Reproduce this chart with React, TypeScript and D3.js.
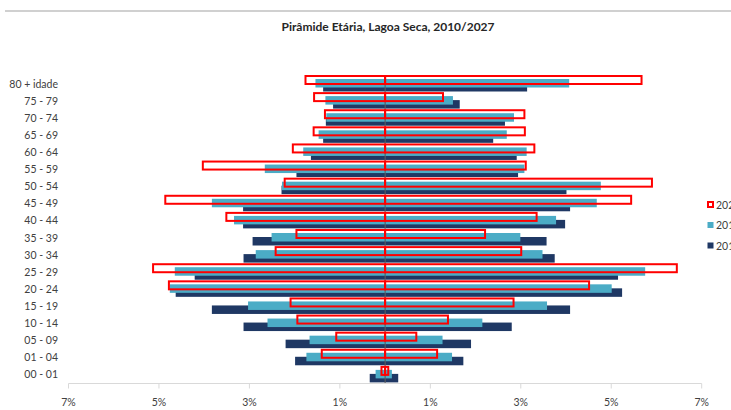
import { useEffect, useRef } from "react";
import * as d3 from "d3";

const ageGroups = [
  "80 + idade", "75 - 79", "70 - 74", "65 - 69", "60 - 64", "55 - 59",
  "50 - 54", "45 - 49", "40 - 44", "35 - 39", "30 - 34", "25 - 29",
  "20 - 24", "15 - 19", "10 - 14", "05 - 09", "01 - 04", "00 - 01",
];

// left side (%) per age group, top to bottom
const left2027 = [1.76, 1.57, 1.33, 1.58, 2.04, 4.03, 2.22, 4.86, 3.51, 1.96, 2.42, 5.13, 4.78, 2.09, 1.94, 1.08, 1.40, 0.08];
const left2017 = [1.54, 1.32, 1.30, 1.47, 1.81, 2.66, 2.28, 3.83, 3.34, 2.51, 2.86, 4.65, 4.76, 3.03, 2.60, 1.67, 1.74, 0.21];
const left2010 = [1.37, 1.15, 1.31, 1.37, 1.64, 1.96, 2.29, 3.14, 3.14, 2.93, 3.13, 4.21, 4.63, 3.83, 3.13, 2.20, 1.99, 0.34];

// right side (%)
const right2027 = [5.67, 1.28, 3.08, 3.09, 3.30, 3.11, 5.90, 5.44, 3.35, 2.21, 3.01, 6.45, 4.51, 2.84, 1.39, 0.69, 1.15, 0.07];
const right2017 = [4.07, 1.50, 2.85, 2.69, 3.13, 3.08, 4.77, 4.68, 3.78, 2.99, 3.48, 5.75, 5.01, 3.58, 2.15, 1.27, 1.48, 0.15];
const right2010 = [3.14, 1.65, 2.65, 2.39, 2.91, 2.94, 4.01, 4.09, 3.98, 3.57, 3.75, 5.15, 5.24, 4.09, 2.80, 1.90, 1.73, 0.29];

const ticks = [-7, -5, -3, -1, 1, 3, 5, 7];
const legendItems = ["2027", "2017", "2010"];

const RED = "#ff0000";
const TEAL = "#4bacc6";
const NAVY = "#1f3864";

export default function App() {
  const ref = useRef<SVGSVGElement>(null);

  useEffect(() => {
    if (!ref.current) return;
    const width = 731;
    const height = 410;
    const svg = d3.select(ref.current);
    svg.selectAll("*").remove();

    const font = "Lato, 'Open Sans', sans-serif";
    const x = d3.scaleLinear().domain([-7, 7]).range([68.5, 701.7]);
    const y = d3.scaleBand().domain(ageGroups).range([75, 383]).padding(0);
    const cx = x(0);

    // top border line
    svg.append("line")
      .attr("x1", 5).attr("x2", width).attr("y1", 11).attr("y2", 11)
      .attr("stroke", "#c0c0c0").attr("stroke-width", 1.5);

    svg.append("text")
      .attr("x", 388).attr("y", 31)
      .attr("text-anchor", "middle")
      .attr("font-family", font).attr("font-weight", "bold").attr("font-size", 12)
      .attr("fill", "#262626")
      .text("Pirâmide Etária, Lagoa Seca, 2010/2027");

    const g = svg.append("g");

    const drawSeries = (lv: number[], rv: number[], y0: number, h: number, color: string, outline: boolean) => {
      ageGroups.forEach((a, i) => {
        const by = (y(a) as number) + y0;
        [[-lv[i], 0], [0, rv[i]]].forEach(([v0, v1]) => {
          const r = g.append("rect")
            .attr("x", x(v0)).attr("y", by)
            .attr("width", x(v1) - x(v0)).attr("height", h);
          if (outline) r.attr("fill", "none").attr("stroke", color).attr("stroke-width", 2);
          else r.attr("fill", color);
        });
      });
    };

    drawSeries(left2010, right2010, 8, 8.5, NAVY, false);
    drawSeries(left2017, right2017, 4, 8.5, TEAL, false);

    // vertical axis line
    g.append("line")
      .attr("x1", cx).attr("x2", cx).attr("y1", 75).attr("y2", 383)
      .attr("stroke", "#595959").attr("stroke-width", 1);

    drawSeries(left2027, right2027, 1, 8, RED, true);

    // category labels
    svg.append("g").selectAll("text")
      .data(ageGroups).enter().append("text")
      .attr("x", 58).attr("y", (d) => (y(d) as number) + y.bandwidth() / 2 + 4)
      .attr("text-anchor", "end")
      .attr("font-family", font).attr("font-size", 10.5).attr("fill", "#404040")
      .text((d) => d);

    // bottom axis
    const axisY = 383.5;
    svg.append("line")
      .attr("x1", x(-7)).attr("x2", x(7)).attr("y1", axisY).attr("y2", axisY)
      .attr("stroke", "#d9d9d9").attr("stroke-width", 1);
    const tg = svg.append("g").selectAll("g").data(ticks).enter().append("g");
    tg.append("line")
      .attr("x1", (d) => x(d)).attr("x2", (d) => x(d))
      .attr("y1", axisY).attr("y2", axisY + 5)
      .attr("stroke", "#d9d9d9");
    tg.append("text")
      .attr("x", (d) => x(d)).attr("y", 406)
      .attr("text-anchor", "middle")
      .attr("font-family", font).attr("font-size", 10.5).attr("fill", "#404040")
      .text((d) => `${Math.abs(d)}%`);

    // legend
    const lg = svg.append("g");
    legendItems.forEach((name, i) => {
      const ly = 204.5 + i * 20.5;
      if (i === 0) {
        lg.append("rect").attr("x", 708).attr("y", ly - 2.5).attr("width", 5).attr("height", 5)
          .attr("fill", "none").attr("stroke", RED).attr("stroke-width", 2);
      } else {
        lg.append("rect").attr("x", 707.5).attr("y", ly - 3).attr("width", 6).attr("height", 6)
          .attr("fill", i === 1 ? TEAL : NAVY);
      }
      lg.append("text")
        .attr("x", 716).attr("y", ly + 4)
        .attr("font-family", font).attr("font-size", 10.5).attr("fill", "#404040")
        .text(name);
    });

    svg.attr("width", width).attr("height", height);
  }, []);

  return (
    <div style={{ position: "absolute", left: 0, top: 0, width: 731, height: 410, overflow: "hidden", background: "#fff" }}>
      <svg ref={ref} width={731} height={410} style={{ display: "block" }} />
    </div>
  );
}
